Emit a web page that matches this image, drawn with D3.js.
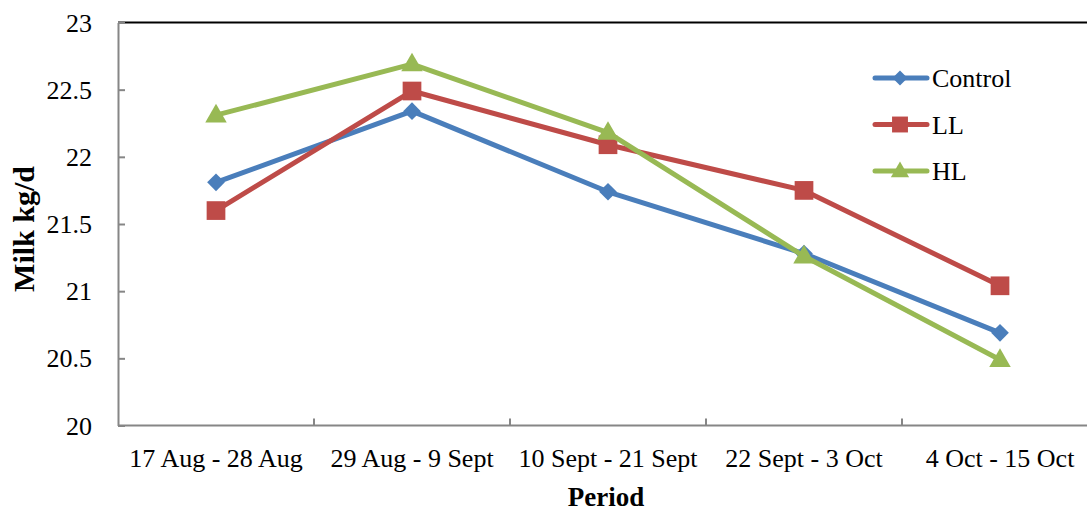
<!DOCTYPE html>
<html>
<head>
<meta charset="utf-8">
<script src="https://cdn.jsdelivr.net/npm/d3@7"></script>
<style>
  html, body { margin: 0; padding: 0; background: #fff; }
  svg { display: block; }
  text { font-family: "Liberation Serif", "Times New Roman", serif; fill: #000; }
</style>
</head>
<body>
<svg id="chart" width="1087" height="512"></svg>
<script>
// Milk yield per period for each treatment
const periods = ["17 Aug - 28 Aug", "29 Aug - 9 Sept", "10 Sept - 21 Sept", "22 Sept - 3 Oct", "4 Oct - 15 Oct"];
const control = [21.81, 22.34, 21.74, 21.28, 20.69];
const ll      = [21.60, 22.49, 22.09, 21.75, 21.04];
const hl      = [22.31, 22.69, 22.18, 21.26, 20.49];
const yTicks  = [20, 20.5, 21, 21.5, 22, 22.5, 23];

const series = [
  { name: "Control", values: control, color: "#4A7EBB", marker: "diamond" },
  { name: "LL",      values: ll,      color: "#BE4B48", marker: "square" },
  { name: "HL",      values: hl,      color: "#98B954", marker: "triangle" }
];

const svg = d3.select("#chart");
const plotLeft = 118, plotRight = 1098, plotTop = 22.5, plotBottom = 425.5;

const x = d3.scaleBand().domain(periods).range([plotLeft, plotRight]);
const y = d3.scaleLinear().domain([20, 23]).range([plotBottom, plotTop]);
const cx = d => x(d) + x.bandwidth() / 2;

// top frame line
svg.append("line")
  .attr("x1", plotLeft).attr("x2", plotRight)
  .attr("y1", plotTop).attr("y2", plotTop)
  .attr("stroke", "#000").attr("stroke-width", 2);

// y axis
const yAxis = svg.append("g")
  .attr("transform", `translate(${plotLeft},0)`)
  .call(d3.axisLeft(y).tickValues(yTicks).tickSizeInner(-7).tickSizeOuter(0).tickPadding(26).tickFormat(d3.format("")));
yAxis.attr("font-family", null);
yAxis.select(".domain").attr("stroke", "#868686").attr("stroke-width", 2);
yAxis.selectAll(".tick line").attr("stroke", "#868686").attr("stroke-width", 2);
yAxis.selectAll(".tick text")
  .attr("font-size", 26).attr("dy", "0.33em");

// x axis with boundary ticks between categories
const xAxis = svg.append("g")
  .attr("transform", `translate(0,${plotBottom})`);
xAxis.append("line")
  .attr("x1", plotLeft).attr("x2", plotRight)
  .attr("stroke", "#868686").attr("stroke-width", 2);
xAxis.selectAll("line.boundary")
  .data(periods.slice(1))
  .join("line")
  .attr("class", "boundary")
  .attr("x1", d => x(d)).attr("x2", d => x(d))
  .attr("y1", 0).attr("y2", -7)
  .attr("stroke", "#868686").attr("stroke-width", 2);
xAxis.selectAll("text.cat")
  .data(periods)
  .join("text")
  .attr("class", "cat")
  .attr("x", d => cx(d))
  .attr("y", 41)
  .attr("text-anchor", "middle")
  .attr("font-size", 26)
  .text(d => d);

// axis titles
svg.append("text")
  .attr("x", 606).attr("y", 506)
  .attr("text-anchor", "middle")
  .attr("font-size", 27).attr("font-weight", "bold")
  .text("Period");
svg.append("text")
  .attr("transform", "translate(34,229) rotate(-90)")
  .attr("text-anchor", "middle")
  .attr("font-size", 30).attr("font-weight", "bold")
  .text("Milk kg/d");

// marker shapes
const symbolFor = {
  diamond: d3.symbol().type(d3.symbolDiamond2).size(200),
  square: d3.symbol().type(d3.symbolSquare).size(350),
  triangle: d3.symbol().type(d3.symbolTriangle).size(200)
};
const markerTransform = (m, px, py) =>
  m === "triangle" ? `translate(${px},${py + 1})` : `translate(${px},${py})`;

const line = d3.line().x((d, i) => cx(periods[i])).y(d => y(d));

series.forEach(s => {
  const g = svg.append("g");
  g.append("path")
    .attr("d", line(s.values))
    .attr("fill", "none")
    .attr("stroke", s.color)
    .attr("stroke-width", 5)
    .attr("stroke-linejoin", "round")
    .attr("stroke-linecap", "round");
  g.selectAll("path.marker")
    .data(s.values)
    .join("path")
    .attr("class", "marker")
    .attr("d", symbolFor[s.marker])
    .attr("transform", (d, i) => markerTransform(s.marker, cx(periods[i]), y(d)))
    .attr("fill", s.color);
});

// legend
const legend = svg.append("g");
series.forEach((s, i) => {
  const ly = 78 + i * 46.5;
  legend.append("line")
    .attr("x1", 875).attr("x2", 927)
    .attr("y1", ly).attr("y2", ly)
    .attr("stroke", s.color).attr("stroke-width", 5)
    .attr("stroke-linecap", "round");
  legend.append("path")
    .attr("d", symbolFor[s.marker])
    .attr("transform", markerTransform(s.marker, 900, ly) + " scale(0.85)")
    .attr("fill", s.color);
  legend.append("text")
    .attr("x", 932).attr("y", ly + 9)
    .attr("font-size", 26)
    .text(s.name);
});
</script>
</body>
</html>
